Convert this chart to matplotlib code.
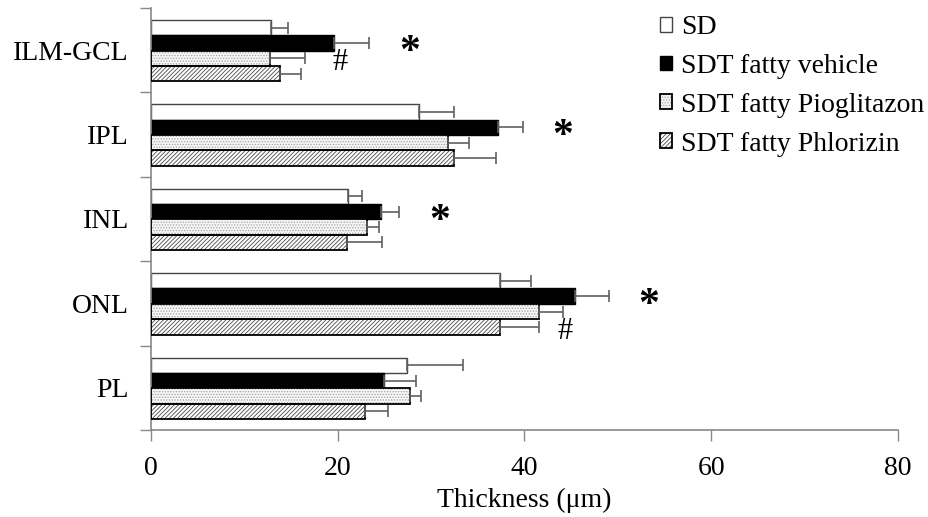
import matplotlib
matplotlib.use("Agg")
import matplotlib.pyplot as plt
import numpy as np
from matplotlib.patches import Patch
from matplotlib.legend_handler import HandlerTuple

# データ (Thickness, um)
layers = ["ILM-GCL", "IPL", "INL", "ONL", "PL"]
groups = ["SD", "SDT fatty vehicle", "SDT fatty Pioglitazon", "SDT fatty Phlorizin"]

sd_mean = [12.9, 28.7, 21.1, 37.4, 27.4]
sd_err = [1.8, 3.7, 1.5, 3.3, 6.0]
veh_mean = [19.6, 37.2, 24.6, 45.4, 24.9]
veh_err = [3.8, 2.6, 2.0, 3.6, 3.5]
pio_mean = [12.7, 31.8, 23.1, 41.6, 27.7]
pio_err = [3.8, 2.3, 1.3, 2.5, 1.2]
phl_mean = [13.8, 32.5, 21.0, 37.4, 22.9]
phl_err = [2.3, 4.4, 3.7, 4.1, 2.5]

# 有意差マーク
star_layers = ["ILM-GCL", "IPL", "INL", "ONL"]
hash_marks = [("ILM-GCL", 2, 20.3), ("ONL", 3, 44.3)]  # (layer, bar row, x)

plt.rcParams["font.family"] = ["Liberation Serif", "DejaVu Serif"]
plt.rcParams["hatch.linewidth"] = 0.6

fig = plt.figure(figsize=(9.29, 5.17), dpi=100)
ax = fig.add_axes([151 / 929, 1 - 430 / 517, (898 - 151) / 929, (430 - 8) / 517])

y = np.arange(len(layers))
h = 0.182
offsets = (np.arange(4) - 1.5) * h + 0.005
means = [sd_mean, veh_mean, pio_mean, phl_mean]
errs = [sd_err, veh_err, pio_err, phl_err]
err_color = "#606060"

pio_style = dict(color="#f6f6f6", edgecolor="#a0a0a0", hatch="......", linewidth=0)
phl_style = dict(color="white", edgecolor="#4a4a4a", hatch="////////", linewidth=0)
outline = dict(fill=False, edgecolor="black", linewidth=1.3)

# SD
ax.barh(y + offsets[0], sd_mean, height=h, color="white", edgecolor="#444444", linewidth=1.0, zorder=2)
# vehicle
ax.barh(y + offsets[1], veh_mean, height=h, color="black", edgecolor="black", linewidth=1.0, zorder=2)
# Pioglitazon: dotted fill + black outline
ax.barh(y + offsets[2], pio_mean, height=h, zorder=2, **pio_style)
ax.barh(y + offsets[2], pio_mean, height=h, zorder=3, **outline)
# Phlorizin: diagonal fill + black outline
ax.barh(y + offsets[3], phl_mean, height=h, zorder=2, **phl_style)
ax.barh(y + offsets[3], phl_mean, height=h, zorder=3, **outline)

for i in range(4):
    ax.errorbar(means[i], y + offsets[i], xerr=[np.zeros(len(layers)), errs[i]], fmt="none",
                ecolor=err_color, elinewidth=1.2, capsize=4, capthick=1.2, zorder=4)

for name in star_layers:
    k = layers.index(name)
    ax.text(veh_mean[k] + veh_err[k] + 4.3, k + offsets[1] + 0.12, "*", fontsize=30,
            ha="center", va="center", fontweight="bold")
for name, row, xpos in hash_marks:
    k = layers.index(name)
    ax.text(xpos, k + offsets[row] + 0.05, "#", fontsize=22, ha="center", va="center")

ax.set_xlim(0, 80)
ax.set_ylim(len(layers) - 0.5, -0.5)
ax.set_xticks([0, 20, 40, 60, 80])
ax.set_yticks(np.arange(len(layers) + 1) - 0.5)
ax.set_yticklabels([])
ax.set_yticks(y, minor=True)
ax.set_yticklabels(layers, minor=True)
ax.tick_params(axis="y", which="minor", length=0, pad=16, labelsize=20)
ax.tick_params(axis="y", which="major", length=8, color="#888888", width=1)
ax.tick_params(axis="x", length=8, color="#888888", width=1, pad=11, labelsize=20)
ax.set_xlabel("Thickness (μm)", fontsize=20, labelpad=5)

for s in ["top", "right"]:
    ax.spines[s].set_visible(False)
for s in ["left", "bottom"]:
    ax.spines[s].set_color("#888888")
    ax.spines[s].set_linewidth(1.2)

handles = [
    Patch(facecolor="white", edgecolor="#444444", linewidth=1.0),
    Patch(facecolor="black", edgecolor="black"),
    (Patch(facecolor="#f6f6f6", edgecolor="#a0a0a0", hatch="......", linewidth=0),
     Patch(fill=False, edgecolor="black", linewidth=1.3)),
    (Patch(facecolor="white", edgecolor="#4a4a4a", hatch="////////", linewidth=0),
     Patch(fill=False, edgecolor="black", linewidth=1.3)),
]
fig.legend(handles, groups, loc="upper left", bbox_to_anchor=(660 / 929, 1 - 15 / 517),
           frameon=False, fontsize=20, handlelength=0.45, handleheight=0.45,
           handletextpad=0.3, labelspacing=0.5, borderaxespad=0, borderpad=0,
           handler_map={tuple: HandlerTuple(ndivide=1, pad=0)})

fig.savefig("out.png", dpi=100)
